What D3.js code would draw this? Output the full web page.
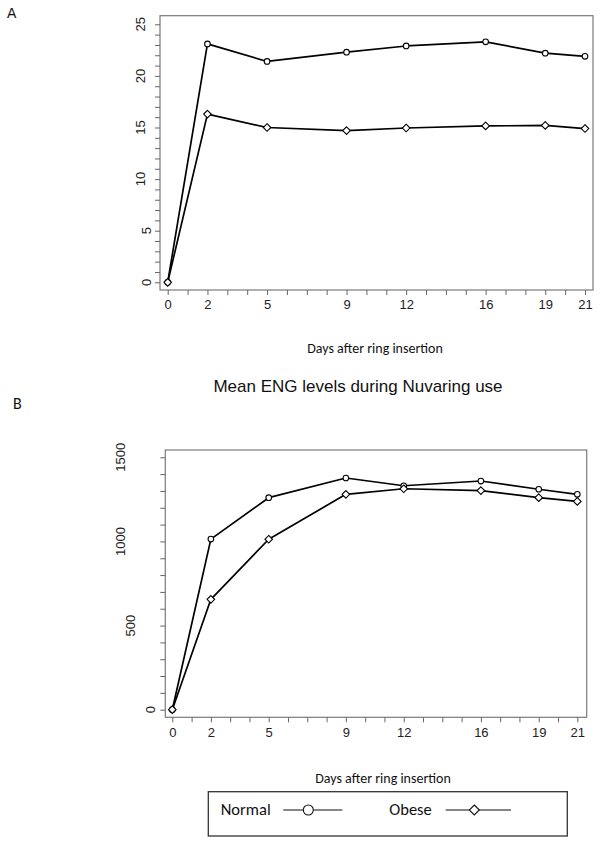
<!DOCTYPE html>
<html>
<head>
<meta charset="utf-8">
<script src="https://cdn.jsdelivr.net/npm/d3@7"></script>
<style>
  html, body { margin: 0; padding: 0; background: #fff; }
  svg { display: block; }
</style>
</head>
<body>
<svg id="chart" width="601" height="844"></svg>
<script>
// ---- data ----
const days = [0, 2, 5, 9, 12, 16, 19, 21];
const normalA = [0, 23.1, 21.4, 22.3, 22.9, 23.3, 22.2, 21.9];
const obeseA = [0, 16.3, 15.0, 14.7, 14.95, 15.15, 15.2, 14.9];
const normalB = [0, 1014, 1260, 1377, 1331, 1359, 1310, 1280];
const obeseB = [0, 656, 1013, 1280, 1313, 1302, 1260, 1238];
const yTicksA = [0, 5, 10, 15, 20, 25];
const yTicksB = [0, 500, 1000, 1500];
const xTickLabels = ["0", "2", "5", "9", "12", "16", "19", "21"];
const seriesNames = ["Normal", "Obese"];
const xTitle = "Days after ring insertion";
const titleB = "Mean ENG levels during Nuvaring use";

const svg = d3.select("#chart");
const RFONT = "'Liberation Sans', Arial, sans-serif";
const CFONT = "Carlito, Lato, 'Open Sans', sans-serif";

function diamondPath(cx, cy, r) {
  return `M${cx},${cy - r}L${cx + r},${cy}L${cx},${cy + r}L${cx - r},${cy}Z`;
}

function panel(cfg) {
  const g = svg.append("g");
  const x = d3.scaleLinear().domain([0, 21]).range(cfg.xr);
  const y = d3.scaleLinear().domain(cfg.yd).range(cfg.yr);
  const b = cfg.box;

  // box
  g.append("rect")
    .attr("x", b[0]).attr("y", b[1])
    .attr("width", b[2] - b[0]).attr("height", b[3] - b[1])
    .attr("fill", "none").attr("stroke", "#7a7a7a").attr("stroke-width", 1.2);

  // x axis
  const labelSet = new Set(days);
  const xAxis = d3.axisBottom(x)
    .tickValues(d3.range(0, 22))
    .tickSize(5).tickSizeOuter(0).tickPadding(5)
    .tickFormat(d => labelSet.has(d) ? xTickLabels[days.indexOf(d)] : "");
  const xa = g.append("g").attr("transform", `translate(0,${b[3]})`).call(xAxis);
  xa.select(".domain").remove();
  xa.selectAll("line").attr("stroke", "#666");
  xa.selectAll("text").attr("font-family", RFONT).attr("font-size", 13).attr("fill", "#222");

  // y axis
  const yAxis = d3.axisLeft(y)
    .tickValues(d3.range(cfg.yd[0], cfg.yd[1] + 0.001, cfg.minor))
    .tickSize(5).tickSizeOuter(0).tickFormat("");
  const ya = g.append("g").attr("transform", `translate(${b[0]},0)`).call(yAxis);
  ya.select(".domain").remove();
  ya.selectAll("line").attr("stroke", "#666");

  // rotated y tick labels
  g.selectAll(".ylab").data(cfg.yTicks).enter().append("text")
    .attr("class", "ylab")
    .attr("transform", d => {
      const s = String(d);
      return `translate(${cfg.labX(s.length)},${y(d)}) rotate(-90)`;
    })
    .attr("text-anchor", "middle")
    .attr("dy", "0.35em")
    .attr("font-family", RFONT).attr("font-size", 13).attr("fill", "#222")
    .text(d => String(d));

  // lines
  const line = d3.line().x((d, i) => x(days[i])).y(d => y(d));
  [cfg.normal, cfg.obese].forEach(vals => {
    g.append("path").datum(vals)
      .attr("d", line)
      .attr("fill", "none").attr("stroke", "#000").attr("stroke-width", 1.7)
      .attr("stroke-linejoin", "round");
  });

  // markers
  g.selectAll(".mc").data(cfg.normal).enter().append("circle")
    .attr("cx", (d, i) => x(days[i])).attr("cy", d => y(d)).attr("r", 2.8)
    .attr("fill", "#fff").attr("stroke", "#000").attr("stroke-width", 1.1);
  g.selectAll(".md").data(cfg.obese).enter().append("path")
    .attr("d", (d, i) => diamondPath(x(days[i]), y(d), 3.8))
    .attr("fill", "#fff").attr("stroke", "#000").attr("stroke-width", 1.1);

  // x title
  g.append("text")
    .attr("x", cfg.xTitle[0]).attr("y", cfg.xTitle[1])
    .attr("text-anchor", "middle")
    .attr("font-family", CFONT).attr("font-size", 14).attr("fill", "#111")
    .text(xTitle);
}

// Panel letters
svg.append("text").attr("x", 7).attr("y", 18).attr("font-family", RFONT)
  .attr("font-size", 14).attr("fill", "#111").text("A");
svg.append("text").attr("x", 13).attr("y", 409).attr("font-family", CFONT)
  .attr("font-size", 16).attr("fill", "#111").text("B");

panel({
  xr: [167.7, 585], yd: [0, 25], yr: [282.3, 24.3],
  box: [160, 15.7, 593, 290], minor: 1, yTicks: yTicksA,
  labX: len => 152 - 6 * len,
  normal: normalA, obese: obeseA, xTitle: [375, 353]
});

// title B
svg.append("text").attr("x", 358).attr("y", 392).attr("text-anchor", "middle")
  .attr("font-family", RFONT).attr("font-size", 17).attr("fill", "#111").text(titleB);

panel({
  xr: [172.3, 577.3], yd: [0, 1500], yr: [709.7, 457.3],
  box: [165.3, 450, 586.7, 717.3], minor: 100, yTicks: yTicksB,
  labX: len => 160 - 10 * len,
  normal: normalB, obese: obeseB, xTitle: [383, 782.5]
});

// legend
const lg = svg.append("g");
lg.append("rect").attr("x", 208.3).attr("y", 791.7).attr("width", 359).attr("height", 44.3)
  .attr("fill", "none").attr("stroke", "#333").attr("stroke-width", 1.3);
const legendItems = [
  { name: seriesNames[0], tx: 220.7, l0: 283.3, l1: 342.3, m: 308.3, shape: "circle" },
  { name: seriesNames[1], tx: 389.3, l0: 445.7, l1: 511, m: 474.3, shape: "diamond" }
];
legendItems.forEach(it => {
  lg.append("text").attr("x", it.tx).attr("y", 815).attr("font-family", CFONT)
    .attr("font-size", 16.5).attr("fill", "#111").text(it.name);
  lg.append("line").attr("x1", it.l0).attr("x2", it.l1).attr("y1", 810).attr("y2", 810)
    .attr("stroke", "#111").attr("stroke-width", 1.1);
  if (it.shape === "circle") {
    lg.append("circle").attr("cx", it.m).attr("cy", 810).attr("r", 5)
      .attr("fill", "#fff").attr("stroke", "#111").attr("stroke-width", 1.1);
  } else {
    lg.append("path").attr("d", diamondPath(it.m, 810, 5))
      .attr("fill", "#fff").attr("stroke", "#111").attr("stroke-width", 1.1);
  }
});
</script>
</body>
</html>
